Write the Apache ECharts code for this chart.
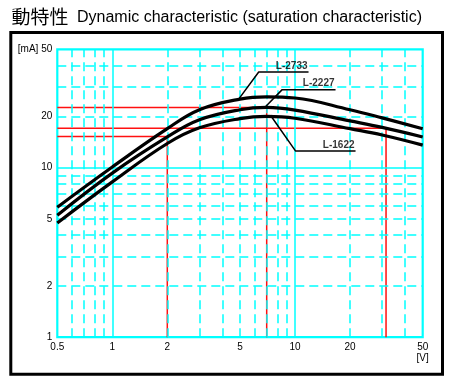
<!DOCTYPE html>
<html><head><meta charset="utf-8">
<script src="https://cdn.jsdelivr.net/npm/echarts@6/dist/echarts.min.js"></script>
<style>html,body{margin:0;padding:0;background:#fff}#c{width:453px;height:385px}</style>
</head><body><div id="c"></div>
<script>
// ---- data ----
const xTicks = [0.5, 1, 2, 5, 10, 20, 50];
const yTicks = [1, 2, 5, 10, 20, 50];
const xMajor = [1, 10];
const xMinor = [0.6, 0.7, 0.8, 0.9, 2, 3, 4, 5, 6, 7, 8, 9, 20, 30, 40];
const yMajor = [10];
const yMinor = [2, 3, 4, 5, 6, 7, 8, 9, 20, 30, 40];
const voltage = [0.5, 1, 2, 3, 5, 7, 10, 20, 30, 50];
const L2733 = [5.85, 10.1, 17.0, 22.0, 25.4, 26.2, 25.8, 22.0, 19.7, 17.0];
const L2227 = [5.25, 9.3, 15.2, 19.2, 22.0, 22.7, 21.9, 18.9, 17.3, 15.2];
const L1622 = [4.72, 8.25, 13.9, 17.2, 19.5, 20.1, 19.6, 17.0, 15.6, 13.6];
const redV = [2, 7, 31.5];
const redI = [15.3, 22.7, 17.1];
const calloutNames = ['L-2733', 'L-2227', 'L-1622'];
const calloutTip = [[4.93, 25.5], [6.89, 22.9], [7.34, 20.4]];
const calloutElbow = [[6.33, 36.7], [8.51, 28.9], [10.06, 12.57]];
const calloutEndX = [11.86, 16.67, 21.45];
const curves = [L2733, L2227, L1622];

const CYAN = '#00ffff';
const FONT = 'Liberation Sans';

const series = [];
// grid lines
series.push({
  type: 'line', data: [], silent: true, z: 1,
  markLine: {
    silent: true, symbol: 'none', label: {show: false}, animation: false,
    lineStyle: {color: CYAN, width: 1.5, type: [9, 5]},
    emphasis: {disabled: true},
    data: xMinor.map(v => ({xAxis: v})).concat(yMinor.map(v => ({yAxis: v})))
  }
});
series.push({
  type: 'line', data: [], silent: true, z: 1,
  markLine: {
    silent: true, symbol: 'none', label: {show: false}, animation: false,
    lineStyle: {color: CYAN, width: 1.5, type: 'solid'},
    emphasis: {disabled: true},
    data: xMajor.map(v => ({xAxis: v})).concat(yMajor.map(v => ({yAxis: v})))
  }
});
// red reference lines
redV.forEach((v, i) => {
  series.push({
    type: 'line', z: 3, silent: true, showSymbol: false, animation: false,
    lineStyle: {color: '#ff1010', width: 1.5},
    data: [[xTicks[0], redI[i]], [v, redI[i]], [v, yTicks[0]]]
  });
});
// curves
curves.forEach((c, i) => {
  series.push({
    type: 'line', z: 5, silent: true, showSymbol: false, animation: false,
    smooth: 0.4,
    lineStyle: {color: '#000', width: 3.2},
    data: voltage.map((v, k) => [v, c[k]])
  });
});
// callouts
calloutNames.forEach((n, i) => {
  series.push({
    type: 'line', z: 6, silent: true, showSymbol: false, animation: false,
    lineStyle: {color: '#000', width: 1.5},
    data: [calloutTip[i], calloutElbow[i], [calloutEndX[i], calloutElbow[i][1]]]
  });
});
series.push({
  type: 'scatter', z: 7, silent: true, symbolSize: 0, clip: false, animation: false,
  data: calloutNames.map((n, i) => ({name: n, value: [calloutEndX[i], calloutElbow[i][1]]})),
  label: {
    show: true, formatter: '{b}', position: 'left', distance: 0, offset: [-1, -6],
    color: '#000', fontFamily: FONT, fontWeight: 'bold', fontSize: 10
  }
});

const chart = echarts.init(document.getElementById('c'), null, {renderer: 'canvas'});
chart.setOption({
  animation: false,
  backgroundColor: '#fff',
  grid: {left: 57.3, top: 49.3, right: 30.3, bottom: 47.8, show: true, borderColor: CYAN, borderWidth: 2.2, backgroundColor: '#fff'},
  xAxis: {
    type: 'log', logBase: 10, min: 0.5, max: 50,
    axisLine: {show: false}, axisTick: {show: false}, splitLine: {show: false}, minorSplitLine: {show: false},
    axisLabel: {
      customValues: xTicks, color: '#000', fontSize: 10, fontFamily: FONT, margin: 5, lineHeight: 11,
      formatter: v => (Math.abs(v - 50) < 1e-6 ? '50\n[V]' : String(v))
    }
  },
  yAxis: {
    type: 'log', logBase: 10, min: 1, max: 50,
    axisLine: {show: false}, axisTick: {show: false}, splitLine: {show: false}, minorSplitLine: {show: false},
    axisLabel: {
      customValues: yTicks, color: '#000', fontSize: 10, fontFamily: FONT, margin: 5,
      formatter: v => (Math.abs(v - 50) < 1e-6 ? '[mA] 50' : String(v))
    }
  },
  graphic: [
    {type: 'rect', silent: true, z: 100, shape: {x: 10.8, y: 32.5, width: 431.7, height: 341.7},
     style: {fill: 'none', stroke: '#000', lineWidth: 3}},
    {type: 'text', silent: true, x: 11.5, y: 16.7,
     style: {text: '動特性', font: '19px "Noto Sans CJK JP"', fill: '#000', verticalAlign: 'middle'}},
    {type: 'text', silent: true, x: 77, y: 17.8,
     style: {text: 'Dynamic characteristic (saturation characteristic)', font: '16px "Liberation Sans"', fill: '#000', verticalAlign: 'middle'}}
  ],
  series: series
});
</script></body></html>
